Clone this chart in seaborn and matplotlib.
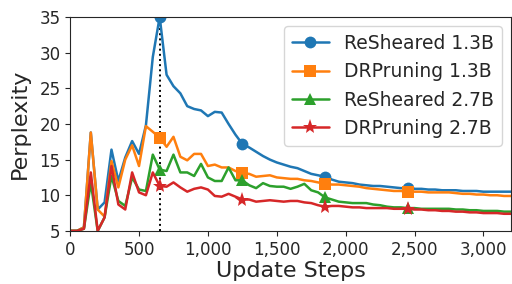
"""Perplexity curves over update steps for ReSheared vs DRPruning."""

import matplotlib

matplotlib.use("Agg")

import matplotlib.pyplot as plt
import pandas as pd
import seaborn as sns
from matplotlib.ticker import StrMethodFormatter

# update steps, sampled every 50
steps = list(range(0, 3201, 50))

resheared_13b = [
    5.0, 5.0, 5.5, 18.8, 8.0, 9.0, 16.4, 12.0, 15.3, 17.6, 15.8, 19.8, 29.4, 35.0,
    26.9, 25.3, 24.3, 22.5, 22.1, 21.9, 21.1, 21.7, 21.6, 20.0, 18.5, 17.2, 16.7,
    16.1, 15.5, 15.0, 14.6, 14.3, 14.0, 13.8, 13.4, 13.0, 12.8, 12.6, 12.2, 11.9,
    11.8, 11.7, 11.5, 11.4, 11.3, 11.3, 11.2, 11.1, 11.0, 11.0, 10.9, 10.9, 10.8,
    10.8, 10.7, 10.7, 10.7, 10.6, 10.6, 10.6, 10.5, 10.5, 10.5, 10.5, 10.5,
]
drpruning_13b = [
    5.0, 5.0, 5.5, 18.8, 8.0, 7.0, 14.8, 11.1, 15.0, 17.0, 14.1, 19.7, 18.9, 18.1,
    16.8, 18.2, 15.4, 14.9, 15.8, 15.8, 14.1, 14.3, 13.9, 13.9, 13.4, 13.1, 13.0,
    12.6, 12.7, 12.8, 12.5, 12.4, 12.3, 12.3, 12.1, 12.0, 11.8, 11.6, 11.5, 11.5,
    11.4, 11.3, 11.2, 11.0, 10.9, 10.8, 10.7, 10.6, 10.6, 10.5, 10.5, 10.5, 10.4,
    10.4, 10.4, 10.4, 10.3, 10.2, 10.2, 10.1, 10.1, 10.0, 10.0, 9.9, 9.9,
]
resheared_27b = [
    5.0, 5.0, 5.3, 11.8, 5.0, 6.9, 12.7, 9.2, 8.5, 12.5, 10.8, 10.6, 15.7, 13.6,
    13.4, 15.7, 13.2, 13.2, 12.7, 14.4, 12.5, 12.0, 12.0, 13.9, 12.1, 12.1, 11.4,
    11.0, 11.7, 11.3, 11.2, 11.2, 10.9, 11.2, 11.6, 10.7, 10.4, 9.7, 9.4, 9.1,
    9.0, 8.9, 8.9, 8.9, 8.7, 8.6, 8.4, 8.3, 8.3, 8.2, 8.2, 8.1, 8.1,
    8.1, 8.1, 8.1, 8.0, 8.0, 7.9, 7.9, 7.8, 7.8, 7.8, 7.7, 7.7,
]
drpruning_27b = [
    5.0, 5.0, 5.3, 13.2, 5.0, 6.9, 14.1, 8.7, 8.0, 13.2, 10.4, 10.0, 13.2, 11.3,
    11.2, 11.8, 11.1, 10.5, 10.9, 11.1, 10.8, 9.9, 9.8, 10.2, 9.8, 9.4, 9.4,
    9.1, 9.2, 9.3, 9.2, 9.1, 9.2, 9.2, 9.0, 8.9, 8.6, 8.4, 8.5, 8.5,
    8.4, 8.3, 8.3, 8.2, 8.2, 8.2, 8.2, 8.1, 8.1, 8.1, 8.0, 8.0, 7.9,
    7.9, 7.8, 7.8, 7.7, 7.7, 7.6, 7.6, 7.5, 7.5, 7.5, 7.4, 7.4,
]

series_names = ["ReSheared 1.3B", "DRPruning 1.3B", "ReSheared 2.7B", "DRPruning 2.7B"]
series_markers = ["o", "s", "^", "*"]
marker_steps = [650, 1250, 1850, 2450]


def main() -> None:
    sns.set_style("ticks")
    plt.rcParams["font.family"] = ["DejaVu Sans"]

    frame = pd.DataFrame(
        {
            "step": steps,
            series_names[0]: resheared_13b,
            series_names[1]: drpruning_13b,
            series_names[2]: resheared_27b,
            series_names[3]: drpruning_27b,
        }
    )
    mark_idx = [steps.index(s) for s in marker_steps]
    colors = sns.color_palette("tab10", 4)

    fig, ax = plt.subplots(figsize=(5.12, 2.84), dpi=100)
    fig.subplots_adjust(left=0.137, right=0.998, top=0.94, bottom=0.187)

    for name, marker, color in zip(series_names, series_markers, colors):
        size = 11 if marker == "*" else 8.5
        sns.lineplot(
            data=frame, x="step", y=name, ax=ax, color=color, linewidth=1.8,
            marker=marker, markersize=size, markevery=mark_idx,
            markeredgewidth=0, label=name,
        )

    peak_step = steps[resheared_13b.index(max(resheared_13b))]
    ax.axvline(peak_step, color="black", linestyle=":", linewidth=1.4, zorder=0)

    ax.set_xlim(0, 3200)
    ax.set_ylim(5, 35)
    ax.set_xticks([0, 500, 1000, 1500, 2000, 2500, 3000])
    ax.set_yticks([5, 10, 15, 20, 25, 30, 35])
    ax.xaxis.set_major_formatter(StrMethodFormatter("{x:,.0f}"))
    ax.tick_params(labelsize=12)
    ax.set_xlabel("Update Steps", fontsize=16, labelpad=2)
    ax.set_ylabel("Perplexity", fontsize=16, labelpad=7)
    ax.legend(loc="upper right", fontsize=13.5, frameon=True)

    fig.savefig("out.png", dpi=100)
    plt.close(fig)


if __name__ == "__main__":
    main()
